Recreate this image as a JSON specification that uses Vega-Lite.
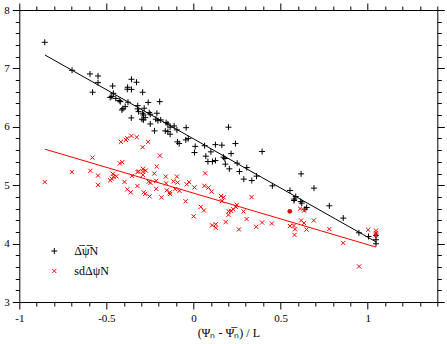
{
  "$schema": "https://vega.github.io/schema/vega-lite/v6.json",
  "width": 418,
  "height": 292,
  "autosize": {"type": "none"},
  "padding": {"left": 19.3, "top": 10, "right": 9.7, "bottom": 42},
  "config": {
    "view": {"stroke": null},
    "font": "Liberation Serif",
    "axis": {
      "grid": false,
      "domainColor": "#000",
      "domainWidth": 1,
      "tickColor": "#000",
      "tickWidth": 1,
      "labelFont": "Liberation Serif",
      "labelFontSize": 11,
      "labelColor": "#000",
      "titleFont": "Liberation Serif",
      "titleFontSize": 12,
      "titleFontWeight": "normal",
      "titleColor": "#000",
      "labelOverlap": false,
      "labelFlush": false,
      "labelBound": false
    },
    "legend": {
      "labelFont": "Liberation Serif",
      "labelFontSize": 12,
      "labelColor": "#000"
    }
  },
  "datasets": {
    "pts": [
      {"x": -0.854, "y": 7.447, "s": "mean"}, {"x": -0.697, "y": 6.968, "s": "mean"}, {"x": -0.594, "y": 6.905, "s": "mean"},
      {"x": -0.548, "y": 6.870, "s": "mean"}, {"x": -0.548, "y": 6.756, "s": "mean"}, {"x": -0.579, "y": 6.592, "s": "mean"},
      {"x": -0.464, "y": 6.699, "s": "mean"}, {"x": -0.460, "y": 6.574, "s": "mean"}, {"x": -0.478, "y": 6.503, "s": "mean"},
      {"x": -0.469, "y": 6.520, "s": "mean"}, {"x": -0.446, "y": 6.486, "s": "mean"}, {"x": -0.420, "y": 6.431, "s": "mean"},
      {"x": -0.426, "y": 6.451, "s": "mean"}, {"x": -0.380, "y": 6.643, "s": "mean"}, {"x": -0.378, "y": 6.677, "s": "mean"},
      {"x": -0.356, "y": 6.814, "s": "mean"}, {"x": -0.327, "y": 6.763, "s": "mean"}, {"x": -0.356, "y": 6.640, "s": "mean"},
      {"x": -0.292, "y": 6.592, "s": "mean"}, {"x": -0.405, "y": 6.311, "s": "mean"}, {"x": -0.392, "y": 6.345, "s": "mean"},
      {"x": -0.376, "y": 6.421, "s": "mean"}, {"x": -0.320, "y": 6.362, "s": "mean"}, {"x": -0.260, "y": 6.417, "s": "mean"},
      {"x": -0.194, "y": 6.431, "s": "mean"}, {"x": -0.411, "y": 6.289, "s": "mean"}, {"x": -0.321, "y": 6.306, "s": "mean"},
      {"x": -0.315, "y": 6.260, "s": "mean"}, {"x": -0.283, "y": 6.318, "s": "mean"}, {"x": -0.292, "y": 6.232, "s": "mean"},
      {"x": -0.287, "y": 6.203, "s": "mean"}, {"x": -0.254, "y": 6.243, "s": "mean"}, {"x": -0.248, "y": 6.215, "s": "mean"},
      {"x": -0.210, "y": 6.232, "s": "mean"}, {"x": -0.357, "y": 6.152, "s": "mean"}, {"x": -0.296, "y": 6.130, "s": "mean"},
      {"x": -0.287, "y": 6.118, "s": "mean"}, {"x": -0.277, "y": 6.157, "s": "mean"}, {"x": -0.216, "y": 6.130, "s": "mean"},
      {"x": -0.204, "y": 6.106, "s": "mean"}, {"x": -0.188, "y": 6.118, "s": "mean"}, {"x": -0.248, "y": 6.049, "s": "mean"},
      {"x": -0.157, "y": 6.072, "s": "mean"}, {"x": -0.147, "y": 6.049, "s": "mean"}, {"x": -0.134, "y": 5.993, "s": "mean"},
      {"x": -0.111, "y": 6.015, "s": "mean"}, {"x": -0.095, "y": 5.947, "s": "mean"}, {"x": -0.224, "y": 5.930, "s": "mean"},
      {"x": -0.162, "y": 5.930, "s": "mean"}, {"x": -0.147, "y": 5.918, "s": "mean"}, {"x": -0.134, "y": 5.873, "s": "mean"},
      {"x": -0.042, "y": 5.985, "s": "mean"}, {"x": -0.092, "y": 5.742, "s": "mean"}, {"x": -0.082, "y": 5.713, "s": "mean"},
      {"x": -0.044, "y": 5.776, "s": "mean"}, {"x": -0.030, "y": 5.798, "s": "mean"}, {"x": 0.010, "y": 5.665, "s": "mean"},
      {"x": 0.006, "y": 5.559, "s": "mean"}, {"x": 0.064, "y": 5.677, "s": "mean"}, {"x": 0.126, "y": 5.695, "s": "mean"},
      {"x": 0.163, "y": 5.685, "s": "mean"}, {"x": 0.201, "y": 5.993, "s": "mean"}, {"x": 0.241, "y": 5.713, "s": "mean"},
      {"x": 0.100, "y": 5.571, "s": "mean"}, {"x": 0.071, "y": 5.497, "s": "mean"}, {"x": 0.083, "y": 5.405, "s": "mean"},
      {"x": 0.109, "y": 5.405, "s": "mean"}, {"x": 0.126, "y": 5.422, "s": "mean"}, {"x": 0.216, "y": 5.541, "s": "mean"},
      {"x": 0.172, "y": 5.480, "s": "mean"}, {"x": 0.180, "y": 5.456, "s": "mean"}, {"x": 0.183, "y": 5.360, "s": "mean"},
      {"x": 0.206, "y": 5.280, "s": "mean"}, {"x": 0.251, "y": 5.377, "s": "mean"}, {"x": 0.264, "y": 5.234, "s": "mean"},
      {"x": 0.394, "y": 5.576, "s": "mean"}, {"x": 0.306, "y": 5.302, "s": "mean"}, {"x": 0.289, "y": 5.104, "s": "mean"},
      {"x": 0.335, "y": 5.080, "s": "mean"}, {"x": 0.362, "y": 5.155, "s": "mean"}, {"x": 0.453, "y": 4.989, "s": "mean"},
      {"x": 0.618, "y": 5.194, "s": "mean"}, {"x": 0.554, "y": 4.909, "s": "mean"}, {"x": 0.692, "y": 4.950, "s": "mean"},
      {"x": 0.587, "y": 4.806, "s": "mean"}, {"x": 0.579, "y": 4.762, "s": "mean"}, {"x": 0.577, "y": 4.738, "s": "mean"},
      {"x": 0.616, "y": 4.721, "s": "mean"}, {"x": 0.622, "y": 4.693, "s": "mean"}, {"x": 0.640, "y": 4.591, "s": "mean"},
      {"x": 0.650, "y": 4.618, "s": "mean"}, {"x": 0.780, "y": 4.647, "s": "mean"}, {"x": 0.860, "y": 4.437, "s": "mean"},
      {"x": 0.950, "y": 4.185, "s": "mean"}, {"x": 1.005, "y": 4.122, "s": "mean"}, {"x": 1.048, "y": 4.142, "s": "mean"},
      {"x": 1.048, "y": 4.066, "s": "mean"}, {"x": 1.048, "y": 3.997, "s": "mean"},

      {"x": -0.854, "y": 5.054, "s": "sd"}, {"x": -0.698, "y": 5.225, "s": "sd"}, {"x": -0.592, "y": 5.246, "s": "sd"},
      {"x": -0.548, "y": 5.165, "s": "sd"}, {"x": -0.548, "y": 5.006, "s": "sd"}, {"x": -0.580, "y": 5.473, "s": "sd"},
      {"x": -0.478, "y": 5.083, "s": "sd"}, {"x": -0.469, "y": 5.112, "s": "sd"}, {"x": -0.459, "y": 5.143, "s": "sd"},
      {"x": -0.443, "y": 5.152, "s": "sd"}, {"x": -0.463, "y": 5.194, "s": "sd"}, {"x": -0.396, "y": 5.057, "s": "sd"},
      {"x": -0.417, "y": 5.742, "s": "sd"}, {"x": -0.388, "y": 5.776, "s": "sd"}, {"x": -0.380, "y": 5.805, "s": "sd"},
      {"x": -0.356, "y": 5.844, "s": "sd"}, {"x": -0.326, "y": 5.822, "s": "sd"}, {"x": -0.423, "y": 5.374, "s": "sd"},
      {"x": -0.409, "y": 5.394, "s": "sd"}, {"x": -0.380, "y": 4.929, "s": "sd"}, {"x": -0.360, "y": 4.878, "s": "sd"},
      {"x": -0.353, "y": 5.160, "s": "sd"}, {"x": -0.321, "y": 5.225, "s": "sd"}, {"x": -0.315, "y": 5.237, "s": "sd"},
      {"x": -0.322, "y": 4.986, "s": "sd"}, {"x": -0.292, "y": 5.651, "s": "sd"}, {"x": -0.260, "y": 5.742, "s": "sd"},
      {"x": -0.290, "y": 5.280, "s": "sd"}, {"x": -0.290, "y": 5.234, "s": "sd"}, {"x": -0.290, "y": 5.177, "s": "sd"},
      {"x": -0.274, "y": 5.251, "s": "sd"}, {"x": -0.286, "y": 4.878, "s": "sd"}, {"x": -0.277, "y": 4.852, "s": "sd"},
      {"x": -0.252, "y": 4.809, "s": "sd"}, {"x": -0.225, "y": 5.199, "s": "sd"}, {"x": -0.257, "y": 5.061, "s": "sd"},
      {"x": -0.247, "y": 5.040, "s": "sd"}, {"x": -0.214, "y": 5.075, "s": "sd"}, {"x": -0.214, "y": 4.938, "s": "sd"},
      {"x": -0.211, "y": 5.319, "s": "sd"}, {"x": -0.193, "y": 5.507, "s": "sd"}, {"x": -0.184, "y": 4.792, "s": "sd"},
      {"x": -0.159, "y": 5.148, "s": "sd"}, {"x": -0.157, "y": 5.032, "s": "sd"}, {"x": -0.153, "y": 4.912, "s": "sd"},
      {"x": -0.136, "y": 4.878, "s": "sd"}, {"x": -0.134, "y": 4.849, "s": "sd"}, {"x": -0.115, "y": 5.066, "s": "sd"},
      {"x": -0.095, "y": 5.148, "s": "sd"}, {"x": -0.091, "y": 5.046, "s": "sd"}, {"x": -0.105, "y": 4.933, "s": "sd"},
      {"x": -0.080, "y": 4.904, "s": "sd"}, {"x": -0.045, "y": 4.724, "s": "sd"}, {"x": -0.039, "y": 5.015, "s": "sd"},
      {"x": -0.025, "y": 5.052, "s": "sd"}, {"x": 0.006, "y": 4.963, "s": "sd"}, {"x": 0.001, "y": 4.467, "s": "sd"},
      {"x": 0.042, "y": 4.630, "s": "sd"}, {"x": 0.060, "y": 4.567, "s": "sd"}, {"x": 0.067, "y": 5.203, "s": "sd"},
      {"x": 0.063, "y": 4.989, "s": "sd"}, {"x": 0.086, "y": 4.958, "s": "sd"}, {"x": 0.104, "y": 4.890, "s": "sd"},
      {"x": 0.158, "y": 4.815, "s": "sd"}, {"x": 0.173, "y": 4.792, "s": "sd"}, {"x": 0.163, "y": 4.727, "s": "sd"},
      {"x": 0.185, "y": 4.368, "s": "sd"}, {"x": 0.107, "y": 4.313, "s": "sd"}, {"x": 0.128, "y": 4.331, "s": "sd"},
      {"x": 0.128, "y": 4.271, "s": "sd"}, {"x": 0.202, "y": 4.553, "s": "sd"}, {"x": 0.201, "y": 4.493, "s": "sd"},
      {"x": 0.216, "y": 4.561, "s": "sd"}, {"x": 0.228, "y": 4.587, "s": "sd"}, {"x": 0.243, "y": 4.630, "s": "sd"},
      {"x": 0.249, "y": 4.664, "s": "sd"}, {"x": 0.261, "y": 4.242, "s": "sd"}, {"x": 0.287, "y": 4.550, "s": "sd"},
      {"x": 0.305, "y": 4.420, "s": "sd"}, {"x": 0.334, "y": 4.796, "s": "sd"}, {"x": 0.360, "y": 4.288, "s": "sd"},
      {"x": 0.394, "y": 4.361, "s": "sd"}, {"x": 0.450, "y": 4.344, "s": "sd"}, {"x": 0.612, "y": 4.599, "s": "sd"},
      {"x": 0.635, "y": 4.565, "s": "sd"}, {"x": 0.554, "y": 4.300, "s": "sd"}, {"x": 0.577, "y": 4.308, "s": "sd"},
      {"x": 0.583, "y": 4.245, "s": "sd"}, {"x": 0.580, "y": 4.148, "s": "sd"}, {"x": 0.618, "y": 4.396, "s": "sd"},
      {"x": 0.635, "y": 4.351, "s": "sd"}, {"x": 0.649, "y": 4.240, "s": "sd"}, {"x": 0.691, "y": 4.396, "s": "sd"},
      {"x": 0.780, "y": 4.250, "s": "sd"}, {"x": 0.860, "y": 4.011, "s": "sd"}, {"x": 0.951, "y": 3.609, "s": "sd"},
      {"x": 1.003, "y": 4.237, "s": "sd"}, {"x": 1.048, "y": 4.223, "s": "sd"}, {"x": 1.048, "y": 4.180, "s": "sd"},
      {"x": 1.048, "y": 4.142, "s": "sd"}
    ],
    "fits": [
      {"x": -0.853, "y": 7.23, "s": "mean"}, {"x": 1.048, "y": 4.03, "s": "mean"},
      {"x": -0.853, "y": 5.617, "s": "sd"}, {"x": 1.048, "y": 3.94, "s": "sd"}
    ],
    "dot": [{"x": 0.553, "y": 4.553}]
  },
  "layer": [
    {
      "data": {"name": "pts"},
      "mark": {"type": "point", "filled": false, "strokeWidth": 1, "size": 36, "opacity": 1},
      "encoding": {
        "x": {
          "field": "x", "type": "quantitative",
          "scale": {"domain": [-1, 1.4], "nice": false, "zero": false},
          "axis": {
            "orient": "bottom",
            "values": [-1, -0.9, -0.8, -0.7, -0.6, -0.5, -0.4, -0.3, -0.2, -0.1, 0, 0.1, 0.2, 0.3, 0.4, 0.5, 0.6, 0.7, 0.8, 0.9, 1, 1.1, 1.2, 1.3, 1.4],
            "tickSize": {"condition": {"test": "abs(datum.value*2 - round(datum.value*2)) < 0.01", "value": 7}, "value": 4},
            "labelExpr": "abs(datum.value*2 - round(datum.value*2)) < 0.01 ? toString(round(datum.value*2)/2) : ''",
            "labelPadding": 3,
            "title": "(Ψ\u2099 - Ψ\u0305\u2099) / L",
            "titlePadding": 4
          }
        },
        "y": {
          "field": "y", "type": "quantitative",
          "scale": {"domain": [3, 8], "nice": false, "zero": false},
          "axis": {
            "orient": "left",
            "values": [3, 3.2, 3.4, 3.6, 3.8, 4, 4.2, 4.4, 4.6, 4.8, 5, 5.2, 5.4, 5.6, 5.8, 6, 6.2, 6.4, 6.6, 6.8, 7, 7.2, 7.4, 7.6, 7.8, 8],
            "tickSize": {"condition": {"test": "abs(datum.value - round(datum.value)) < 0.01", "value": 7}, "value": 4},
            "labelExpr": "abs(datum.value - round(datum.value)) < 0.01 ? toString(round(datum.value)) : ''",
            "labelPadding": 3,
            "title": null
          }
        },
        "shape": {
          "field": "s", "type": "nominal",
          "scale": {"domain": ["mean", "sd"], "range": ["M-1,0L1,0M0,-1L0,1", "M-0.7,-0.7L0.7,0.7M-0.7,0.7L0.7,-0.7"]},
          "legend": {
            "orient": "none", "legendX": 29, "legendY": 235, "title": null, "padding": 0,
            "symbolSize": 36, "symbolStrokeWidth": 1, "rowPadding": 8, "labelOffset": 14,
            "labelExpr": "datum.value == 'mean' ? 'Δ\u0305ψ\u0305N' : 'sdΔψN'"
          }
        },
        "color": {
          "field": "s", "type": "nominal",
          "scale": {"domain": ["mean", "sd"], "range": ["#000000", "#ff0000"]},
          "legend": {
            "orient": "none", "legendX": 29, "legendY": 235, "title": null, "padding": 0,
            "symbolSize": 36, "symbolStrokeWidth": 1, "rowPadding": 8, "labelOffset": 14,
            "labelExpr": "datum.value == 'mean' ? 'Δ\u0305ψ\u0305N' : 'sdΔψN'"
          }
        }
      }
    },
    {
      "data": {"name": "fits"},
      "transform": [{"filter": "datum.s == 'mean'"}],
      "mark": {"type": "line", "strokeWidth": 1, "color": "#000000"},
      "encoding": {
        "x": {
          "field": "x", "type": "quantitative",
          "axis": {
            "orient": "top",
            "values": [-1, -0.9, -0.8, -0.7, -0.6, -0.5, -0.4, -0.3, -0.2, -0.1, 0, 0.1, 0.2, 0.3, 0.4, 0.5, 0.6, 0.7, 0.8, 0.9, 1, 1.1, 1.2, 1.3, 1.4],
            "tickSize": {"condition": {"test": "abs(datum.value*2 - round(datum.value*2)) < 0.01", "value": 7}, "value": 4},
            "labels": false,
            "title": null
          }
        },
        "y": {
          "field": "y", "type": "quantitative",
          "axis": {
            "orient": "right",
            "values": [3, 3.2, 3.4, 3.6, 3.8, 4, 4.2, 4.4, 4.6, 4.8, 5, 5.2, 5.4, 5.6, 5.8, 6, 6.2, 6.4, 6.6, 6.8, 7, 7.2, 7.4, 7.6, 7.8, 8],
            "tickSize": {"condition": {"test": "abs(datum.value - round(datum.value)) < 0.01", "value": 7}, "value": 4},
            "labels": false,
            "title": null
          }
        }
      }
    },
    {
      "data": {"name": "fits"},
      "transform": [{"filter": "datum.s == 'sd'"}],
      "mark": {"type": "line", "strokeWidth": 1, "color": "#ff0000"},
      "encoding": {
        "x": {"field": "x", "type": "quantitative", "axis": null},
        "y": {"field": "y", "type": "quantitative", "axis": null}
      }
    },
    {
      "data": {"name": "dot"},
      "mark": {"type": "circle", "size": 22, "color": "#d01010", "opacity": 1},
      "encoding": {
        "x": {"field": "x", "type": "quantitative", "axis": null},
        "y": {"field": "y", "type": "quantitative", "axis": null}
      }
    }
  ],
  "resolve": {"axis": {"x": "independent", "y": "independent"}}
}
